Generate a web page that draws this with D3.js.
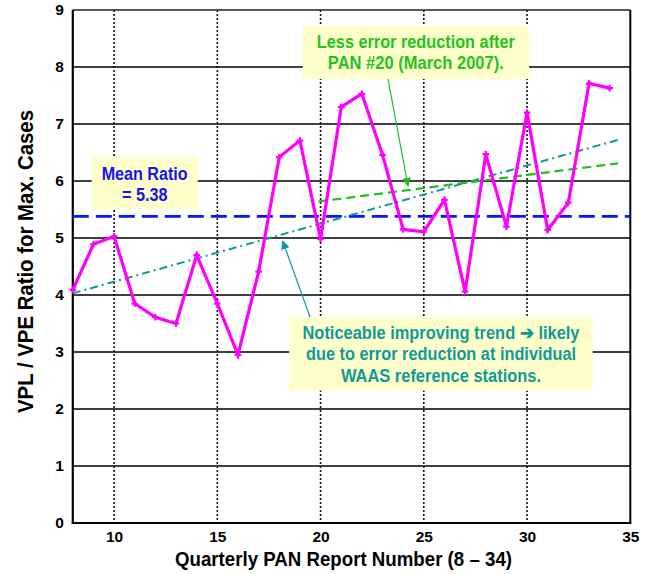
<!DOCTYPE html>
<html>
<head>
<meta charset="utf-8">
<script src="https://cdn.jsdelivr.net/npm/d3@7"></script>
<style>
  html, body { margin: 0; padding: 0; background: #fff; }
  svg { display: block; }
  text { font-family: "Liberation Sans", Arial, sans-serif; font-weight: bold; }
</style>
</head>
<body>
<svg id="chart" width="651" height="574"></svg>
<script>
// Quarterly PAN report numbers and VPL/VPE ratio for the maximum cases
const reports = [8, 9, 10, 11, 12, 13, 14, 15, 16, 17, 18, 19, 20, 21, 22, 23, 24, 25, 26, 27, 28, 29, 30, 31, 32, 33, 34];
const ratios = [4.09, 4.89, 5.03, 3.85, 3.61, 3.50, 4.70, 3.85, 2.95, 4.41, 6.42, 6.71, 4.98, 7.30, 7.53, 6.46, 5.15, 5.11, 5.67, 4.06, 6.47, 5.20, 7.20, 5.14, 5.62, 7.71, 7.63];

const meanRatio = 5.38;
// Trend line over all reports, and trend line after PAN #20: [x, y] endpoints
const trendAll = [[8, 4.03], [34.4, 6.72]];
const trendAfter20 = [[19.9, 5.64], [34.4, 6.31]];

const xTicks = [10, 15, 20, 25, 30, 35];
const yTicks = [0, 1, 2, 3, 4, 5, 6, 7, 8, 9];

const svg = d3.select("#chart");
const plotL = 72.8, plotR = 630.3, plotT = 10, plotB = 523;

const x = d3.scaleLinear().domain([8, 35]).range([plotL, plotR]);
const y = d3.scaleLinear().domain([0, 9]).range([plotB, plotT]);

// Arrow markers for the callouts
const defs = svg.append("defs");
[["arrGreen", "#22bb22"], ["arrTeal", "#119999"]].forEach(([id, c]) => {
  defs.append("marker")
    .attr("id", id).attr("viewBox", "0 0 10 10")
    .attr("refX", 9).attr("refY", 5)
    .attr("markerWidth", 9).attr("markerHeight", 9)
    .attr("markerUnits", "userSpaceOnUse")
    .attr("orient", "auto")
    .append("path").attr("d", "M0,0 L10,5 L0,10 z").attr("fill", c);
});

// Horizontal gridlines (solid)
svg.append("g").selectAll("line").data(yTicks.slice(1, -1)).join("line")
  .attr("x1", plotL).attr("x2", plotR)
  .attr("y1", d => y(d)).attr("y2", d => y(d))
  .attr("stroke", "#000").attr("stroke-width", 1.3);

// Vertical gridlines (dotted)
svg.append("g").selectAll("line").data(xTicks.slice(0, -1)).join("line")
  .attr("x1", d => x(d)).attr("x2", d => x(d))
  .attr("y1", plotT).attr("y2", plotB)
  .attr("stroke", "#111").attr("stroke-width", 1.6)
  .attr("stroke-dasharray", "2,2");

// Axes
const xAxis = svg.append("g").attr("transform", `translate(0,${plotB})`)
  .call(d3.axisBottom(x).tickValues(xTicks).tickSize(0).tickPadding(8));
const yAxis = svg.append("g").attr("transform", `translate(${plotL},0)`)
  .call(d3.axisLeft(y).tickValues(yTicks).tickSize(0).tickPadding(9));
[xAxis, yAxis].forEach(a => {
  a.select(".domain").remove();
  a.selectAll("text").attr("font-size", 15.5).attr("fill", "#000")
    .attr("font-family", "'Liberation Sans', Arial, sans-serif").attr("font-weight", "bold");
});

// Plot frame
svg.append("line").attr("x1", plotL).attr("x2", plotR).attr("y1", plotT).attr("y2", plotT)
  .attr("stroke", "#222").attr("stroke-width", 1.5);
svg.append("line").attr("x1", plotR).attr("x2", plotR).attr("y1", plotT).attr("y2", plotB)
  .attr("stroke", "#000").attr("stroke-width", 2);
svg.append("line").attr("x1", plotL).attr("x2", plotL).attr("y1", plotT).attr("y2", plotB + 1)
  .attr("stroke", "#000").attr("stroke-width", 2.2);
svg.append("line").attr("x1", plotL - 1).attr("x2", plotR + 1).attr("y1", plotB).attr("y2", plotB)
  .attr("stroke", "#000").attr("stroke-width", 2.2);

// Mean ratio line
svg.append("line")
  .attr("x1", x(8)).attr("x2", x(35)).attr("y1", y(meanRatio)).attr("y2", y(meanRatio))
  .attr("stroke", "#0a14ff").attr("stroke-width", 2.6).attr("stroke-dasharray", "16,7");

const seg = d3.line().x(d => x(d[0])).y(d => y(d[1]));

// Trend lines
svg.append("path").attr("d", seg(trendAll)).attr("fill", "none")
  .attr("stroke", "#119999").attr("stroke-width", 2).attr("stroke-dasharray", "8,4,2,4");
svg.append("path").attr("d", seg(trendAfter20)).attr("fill", "none")
  .attr("stroke", "#22bb22").attr("stroke-width", 2.2).attr("stroke-dasharray", "9,5");

// Ratio series
const pts = reports.map((r, i) => [r, ratios[i]]);
svg.append("path").attr("d", seg(pts)).attr("fill", "none")
  .attr("stroke", "#ff00ff").attr("stroke-width", 3.2).attr("stroke-linejoin", "miter");
svg.append("g").selectAll("path").data(pts).join("path")
  .attr("d", d3.symbol(d3.symbolCross, 24))
  .attr("transform", d => `translate(${x(d[0])},${y(d[1])})`)
  .attr("fill", "#ff00ff");

// Callout boxes: each line is [text, width]
function callout(bx, by, bw, bh, color, lines, size, baselines) {
  svg.append("rect").attr("x", bx).attr("y", by).attr("width", bw).attr("height", bh)
    .attr("fill", "#ffffcc");
  const t = svg.append("text").attr("text-anchor", "middle").attr("fill", color)
    .attr("font-size", size);
  lines.forEach(([s, w], i) => {
    t.append("tspan").attr("x", bx + bw / 2).attr("y", baselines[i])
      .attr("textLength", w).attr("lengthAdjust", "spacingAndGlyphs").text(s);
  });
}

callout(91.7, 156.7, 106, 52.6, "#1414f0", [["Mean Ratio", 86], ["= 5.38", 45.6]], 17.5, [180, 200.5]);
callout(302.7, 26, 226.3, 53, "#22c41e",
  [["Less error reduction after", 198], ["PAN #20 (March 2007).", 176]], 17.5, [48, 69]);
callout(289.3, 317.3, 303.4, 73.4, "#109a98",
  [["Noticeable improving trend \u2794 likely", 277], ["due to error reduction at individual", 270],
   ["WAAS reference stations.", 200]],
  17.5, [338.5, 360, 381.5]);

// Callout arrows
svg.append("line").attr("x1", 388).attr("y1", 79).attr("x2", 408).attr("y2", 186)
  .attr("stroke", "#22bb22").attr("stroke-width", 1.2).attr("marker-end", "url(#arrGreen)");
svg.append("line").attr("x1", 310).attr("y1", 317).attr("x2", 282.7).attr("y2", 241)
  .attr("stroke", "#119999").attr("stroke-width", 1.2).attr("marker-end", "url(#arrTeal)");

// Axis titles
svg.append("text").attr("x", 343.5).attr("y", 566)
  .attr("text-anchor", "middle").attr("font-size", 20).attr("fill", "#000")
  .attr("textLength", 337).attr("lengthAdjust", "spacingAndGlyphs")
  .text("Quarterly PAN Report Number (8 \u2013 34)");
svg.append("text").attr("transform", "translate(33,261.5) scale(1.12,1) rotate(-90)")
  .attr("text-anchor", "middle").attr("font-size", 19.5).attr("fill", "#000")
  .attr("textLength", 303).attr("lengthAdjust", "spacingAndGlyphs")
  .text("VPL / VPE Ratio for Max. Cases");
</script>
</body>
</html>
